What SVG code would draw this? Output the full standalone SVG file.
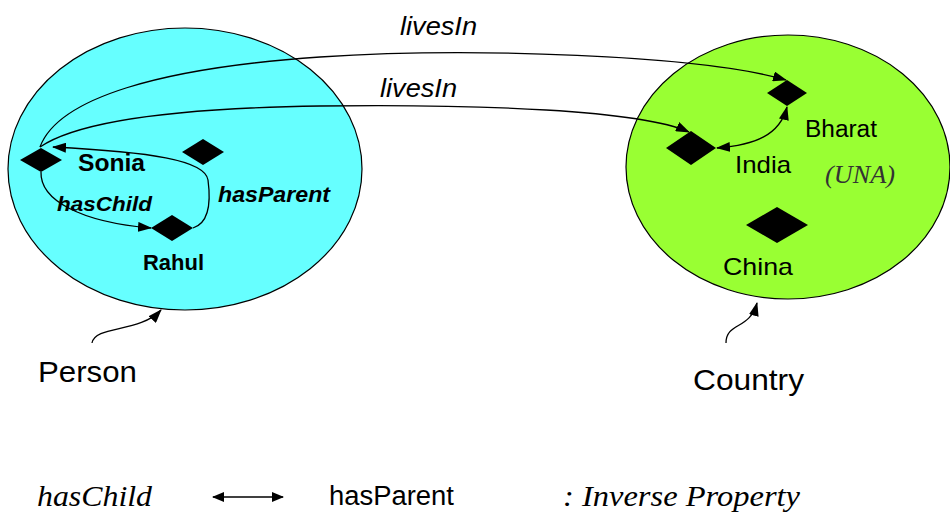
<svg xmlns="http://www.w3.org/2000/svg" width="950" height="514" viewBox="0 0 950 514">
  <style>
    .cls { stroke: #000; stroke-width: 1.2; }
    .ind { fill: #000; }
    .lbl { font-family: "Liberation Sans", Arial, sans-serif; fill: #000; }
    .bold { font-weight: bold; }
    .it { font-style: italic; }
    .serif { font-family: "Liberation Serif", "Times New Roman", serif; font-style: italic; }
    .edge { fill: none; stroke: #000; stroke-width: 1.3; }
  </style>
  <defs>
    <marker id="arrow" viewBox="0 0 14 10" refX="13" refY="5" markerWidth="14" markerHeight="10" markerUnits="userSpaceOnUse" orient="auto-start-reverse">
      <path d="M0,0 L14,5 L0,10 Z" fill="#000"/>
    </marker>
    <marker id="arrowSmall" viewBox="0 0 12 10" refX="11" refY="5" markerWidth="12" markerHeight="10" markerUnits="userSpaceOnUse" orient="auto-start-reverse">
      <path d="M0,0 L12,5 L0,10 Z" fill="#000"/>
    </marker>
  </defs>

  <!-- class: Person -->
  <g id="person">
    <ellipse class="cls" cx="185" cy="169" rx="177" ry="141" fill="#66FFFF"/>
    <text class="lbl" x="38" y="382" font-size="30" textLength="99" lengthAdjust="spacingAndGlyphs">Person</text>
  </g>

  <!-- class: Country -->
  <g id="country">
    <ellipse class="cls" cx="788" cy="167" rx="162" ry="132" fill="#99FF33"/>
    <text class="lbl" x="693" y="390" font-size="30" textLength="111" lengthAdjust="spacingAndGlyphs">Country</text>
  </g>

  <!-- individuals of Person -->
  <g id="sonia">
    <polygon class="ind" points="20,160 41,148 62,160 41,172"/>
    <text class="lbl bold" x="78" y="171" font-size="23" textLength="67" lengthAdjust="spacingAndGlyphs">Sonia</text>
  </g>
  <g id="person-other">
    <polygon class="ind" points="182,152 203,139 224,152 203,165"/>
  </g>
  <g id="rahul">
    <polygon class="ind" points="151,228 172,215 193,228 172,241"/>
    <text class="lbl bold" x="143" y="270" font-size="22" textLength="61" lengthAdjust="spacingAndGlyphs">Rahul</text>
  </g>

  <!-- individuals of Country -->
  <g id="bharat">
    <polygon class="ind" points="767,93 787,80 807,93 787,106"/>
    <text class="lbl" x="805" y="137" font-size="23" textLength="72" lengthAdjust="spacingAndGlyphs">Bharat</text>
    <text class="serif" x="825" y="183" font-size="25" fill="#333" textLength="70" lengthAdjust="spacingAndGlyphs">(UNA)</text>
  </g>
  <g id="india">
    <polygon class="ind" points="666,148 691,131 716,148 691,165"/>
    <text class="lbl" x="735" y="173" font-size="24" textLength="56" lengthAdjust="spacingAndGlyphs">India</text>
  </g>
  <g id="china">
    <polygon class="ind" points="746,225 777,207 808,225 777,243"/>
    <text class="lbl" x="723" y="275" font-size="24" textLength="70" lengthAdjust="spacingAndGlyphs">China</text>
  </g>

  <!-- connectors -->
  <g id="connectors">
    <!-- livesIn: Sonia -> Bharat -->
    <path class="edge" d="M40,147 C58,98 160,68 320,57 C470,47 700,55 786,80" marker-end="url(#arrow)"/>
    <!-- livesIn: Sonia -> India -->
    <path class="edge" d="M40,147 C80,120 180,108 320,106 C480,104 640,110 689,132" marker-end="url(#arrow)"/>
    <!-- hasChild: Sonia -> Rahul -->
    <path class="edge" d="M41,172 C40,200 80,222 151,228" marker-end="url(#arrow)"/>
    <!-- hasParent: Rahul -> Sonia -->
    <path class="edge" d="M193,228 C212,222 210,195 208,180 C205,160 150,152 53,147" marker-end="url(#arrow)"/>
    <!-- same individual: Bharat <-> India -->
    <path class="edge" d="M787,107 C780,135 755,145 717,148" marker-start="url(#arrow)" marker-end="url(#arrow)"/>
    <!-- class pointers -->
    <path class="edge" d="M92,343 C95,325 140,333 161,310" marker-end="url(#arrow)"/>
    <path class="edge" d="M726,343 C726,322 750,330 757,303" marker-end="url(#arrow)"/>
    <!-- legend arrow -->
    <path class="edge" d="M213,497 L283,497" stroke-width="2" marker-start="url(#arrowSmall)" marker-end="url(#arrowSmall)"/>
  </g>

  <!-- edge labels -->
  <g id="edge-labels">
    <text class="lbl it" x="400" y="35" font-size="26" textLength="77" lengthAdjust="spacingAndGlyphs">livesIn</text>
    <text class="lbl it" x="380" y="97" font-size="26" textLength="77" lengthAdjust="spacingAndGlyphs">livesIn</text>
    <text class="lbl bold it" x="57" y="211" font-size="21" textLength="95" lengthAdjust="spacingAndGlyphs">hasChild</text>
    <text class="lbl bold it" x="218" y="202" font-size="22" textLength="112" lengthAdjust="spacingAndGlyphs">hasParent</text>
  </g>

  <!-- legend -->
  <g id="legend">
    <text class="serif" x="37" y="506" font-size="30" textLength="115" lengthAdjust="spacingAndGlyphs">hasChild</text>
    <text class="lbl" x="329" y="505" font-size="27" textLength="125" lengthAdjust="spacingAndGlyphs">hasParent</text>
    <text class="serif" x="563" y="506" font-size="30" textLength="237" lengthAdjust="spacingAndGlyphs">: Inverse  Property</text>
  </g>
</svg>
